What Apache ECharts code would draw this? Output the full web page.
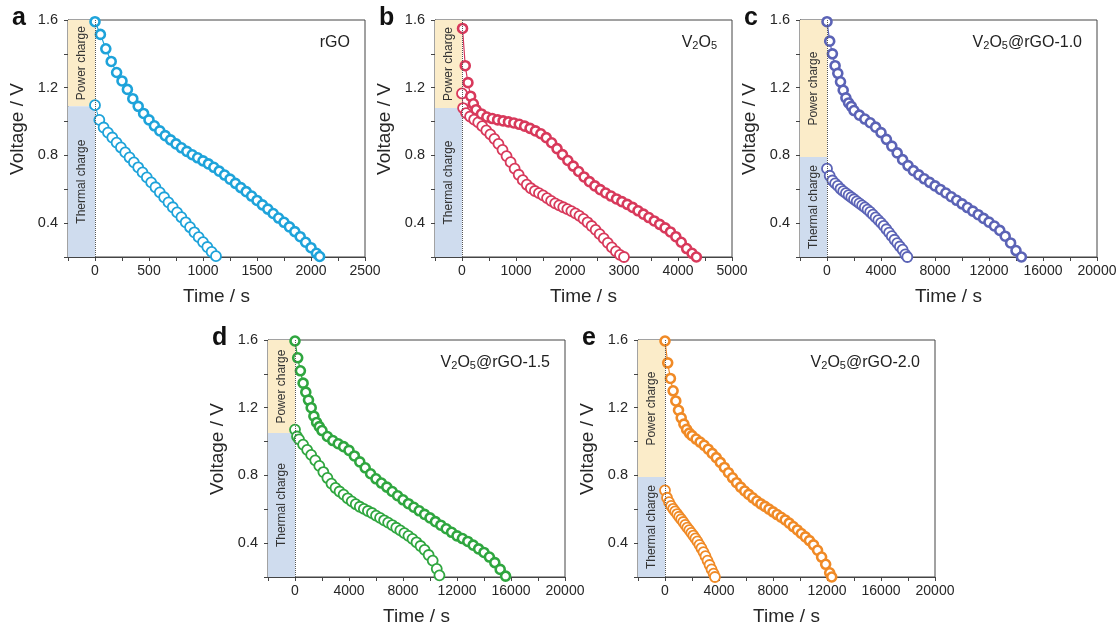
<!DOCTYPE html>
<html><head><meta charset="utf-8">
<script src="https://cdn.jsdelivr.net/npm/echarts@6/dist/echarts.min.js"></script>
<style>html,body{margin:0;padding:0;background:#fff}#c{width:1120px;height:627px}</style>
</head><body><div id="c"></div>
<script>
// ---------------- DATA (time / s, voltage / V) ----------------
const rGO_power = [[0,1.59],[50,1.515],[100,1.43],[150,1.355],[200,1.29],[250,1.24],[300,1.19],[350,1.135],[400,1.09],[450,1.048],[500,1.01],[550,0.975],[600,0.945],[650,0.917],[700,0.892],[750,0.868],[800,0.845],[850,0.824],[900,0.804],[950,0.786],[1000,0.768],[1050,0.75],[1100,0.73],[1150,0.707],[1200,0.684],[1250,0.66],[1300,0.635],[1350,0.61],[1400,0.586],[1450,0.56],[1500,0.534],[1550,0.508],[1600,0.483],[1650,0.457],[1700,0.43],[1750,0.405],[1800,0.378],[1850,0.35],[1900,0.32],[1950,0.287],[2000,0.255],[2050,0.222],[2080,0.203]];
const rGO_thermal = [[0,1.097],[40,1.01],[80,0.965],[120,0.935],[160,0.906],[200,0.876],[240,0.847],[280,0.818],[320,0.788],[360,0.759],[400,0.73],[440,0.70],[480,0.67],[520,0.641],[560,0.612],[600,0.582],[640,0.553],[680,0.523],[720,0.494],[760,0.464],[800,0.435],[840,0.405],[880,0.376],[920,0.346],[960,0.317],[1000,0.288],[1040,0.259],[1080,0.23],[1120,0.205]];

const V2O5_power = [[10,1.55],[60,1.33],[110,1.23],[160,1.15],[210,1.105],[260,1.07],[360,1.045],[460,1.027],[560,1.018],[660,1.01],[760,1.004],[860,0.998],[960,0.992],[1060,0.984],[1160,0.973],[1260,0.96],[1360,0.945],[1460,0.928],[1560,0.905],[1660,0.875],[1760,0.84],[1860,0.805],[1960,0.77],[2060,0.737],[2160,0.705],[2260,0.673],[2360,0.645],[2460,0.62],[2560,0.598],[2660,0.578],[2760,0.56],[2860,0.543],[2960,0.527],[3060,0.511],[3160,0.493],[3260,0.473],[3360,0.453],[3460,0.433],[3560,0.413],[3660,0.393],[3760,0.372],[3860,0.348],[3960,0.32],[4060,0.287],[4160,0.25],[4260,0.222],[4340,0.2]];
const V2O5_thermal = [[0,1.166],[20,1.08],[75,1.05],[150,1.03],[225,1.012],[300,0.995],[375,0.973],[450,0.948],[525,0.924],[600,0.898],[675,0.868],[750,0.833],[825,0.796],[900,0.76],[975,0.722],[1050,0.686],[1125,0.654],[1200,0.627],[1275,0.606],[1350,0.59],[1425,0.577],[1500,0.564],[1575,0.548],[1650,0.532],[1725,0.517],[1800,0.505],[1875,0.494],[1950,0.483],[2025,0.471],[2100,0.458],[2175,0.443],[2250,0.425],[2325,0.405],[2400,0.383],[2475,0.36],[2550,0.335],[2625,0.31],[2700,0.283],[2775,0.257],[2850,0.233],[2925,0.213],[3000,0.2]];

const rGO10_power = [[0,1.59],[200,1.475],[400,1.40],[600,1.33],[800,1.285],[1000,1.235],[1200,1.185],[1400,1.14],[1600,1.11],[1800,1.09],[2000,1.065],[2400,1.038],[2800,1.015],[3200,0.993],[3600,0.967],[4000,0.935],[4400,0.895],[4800,0.855],[5200,0.815],[5600,0.775],[6000,0.74],[6400,0.71],[6800,0.685],[7200,0.662],[7600,0.641],[8000,0.62],[8400,0.599],[8800,0.578],[9200,0.556],[9600,0.535],[10000,0.514],[10400,0.492],[10800,0.471],[11200,0.45],[11600,0.428],[12000,0.406],[12400,0.383],[12800,0.357],[13200,0.323],[13600,0.283],[14000,0.238],[14400,0.2]];
const rGO10_thermal = [[0,0.722],[200,0.68],[400,0.652],[600,0.635],[800,0.62],[1000,0.603],[1200,0.589],[1400,0.577],[1600,0.565],[1800,0.553],[2000,0.541],[2200,0.529],[2400,0.517],[2600,0.505],[2800,0.493],[3000,0.48],[3200,0.466],[3400,0.45],[3600,0.434],[3800,0.418],[4000,0.402],[4200,0.384],[4400,0.364],[4600,0.344],[4800,0.323],[5000,0.302],[5200,0.282],[5400,0.262],[5600,0.243],[5800,0.215],[5950,0.2]];

const rGO15_power = [[0,1.594],[200,1.495],[400,1.418],[600,1.345],[800,1.292],[1000,1.245],[1200,1.20],[1400,1.15],[1600,1.113],[1800,1.088],[2000,1.065],[2400,1.03],[2800,1.006],[3200,0.987],[3600,0.97],[4000,0.948],[4400,0.915],[4800,0.88],[5200,0.845],[5600,0.81],[6000,0.78],[6400,0.755],[6800,0.731],[7200,0.705],[7600,0.68],[8000,0.656],[8400,0.633],[8800,0.612],[9200,0.591],[9600,0.57],[10000,0.549],[10400,0.527],[10800,0.506],[11200,0.485],[11600,0.464],[12000,0.443],[12400,0.427],[12800,0.41],[13200,0.388],[13600,0.366],[14000,0.345],[14400,0.318],[14800,0.285],[15200,0.245],[15600,0.205]];
const rGO15_thermal = [[0,1.071],[150,1.03],[300,1.013],[600,0.982],[900,0.951],[1200,0.921],[1500,0.889],[1800,0.856],[2100,0.82],[2400,0.785],[2700,0.752],[3000,0.726],[3300,0.705],[3600,0.687],[3900,0.665],[4200,0.647],[4500,0.63],[4800,0.615],[5100,0.602],[5400,0.59],[5700,0.578],[6000,0.563],[6300,0.549],[6600,0.535],[6900,0.521],[7200,0.507],[7500,0.491],[7800,0.475],[8100,0.459],[8400,0.443],[8700,0.425],[9000,0.405],[9300,0.383],[9600,0.36],[9900,0.33],[10200,0.297],[10500,0.248],[10700,0.21]];

const rGO20_power = [[0,1.594],[200,1.465],[400,1.373],[600,1.30],[800,1.24],[1000,1.185],[1200,1.14],[1400,1.103],[1600,1.072],[1800,1.05],[2000,1.035],[2300,1.015],[2600,0.997],[2900,0.978],[3200,0.955],[3500,0.93],[3800,0.905],[4100,0.877],[4400,0.847],[4700,0.816],[5000,0.786],[5300,0.757],[5600,0.731],[5900,0.708],[6200,0.688],[6500,0.668],[6800,0.649],[7100,0.632],[7400,0.617],[7700,0.601],[8000,0.585],[8300,0.569],[8600,0.553],[8900,0.537],[9200,0.518],[9500,0.498],[9800,0.478],[10100,0.457],[10400,0.437],[10700,0.415],[11000,0.39],[11300,0.358],[11600,0.318],[11900,0.275],[12200,0.225],[12350,0.2]];
const rGO20_thermal = [[0,0.712],[150,0.668],[300,0.642],[450,0.62],[600,0.603],[750,0.588],[900,0.572],[1050,0.556],[1200,0.541],[1350,0.525],[1500,0.508],[1650,0.492],[1800,0.477],[1950,0.461],[2100,0.445],[2250,0.428],[2400,0.41],[2550,0.39],[2700,0.37],[2850,0.347],[3000,0.323],[3150,0.297],[3300,0.271],[3450,0.245],[3600,0.22],[3700,0.2]];

const panelLetters = ['a','b','c','d','e'];
const sampleLabels = ['{n|rGO}','{n|V}{s|2}{n|O}{s|5}','{n|V}{s|2}{n|O}{s|5}{n|@rGO-1.0}','{n|V}{s|2}{n|O}{s|5}{n|@rGO-1.5}','{n|V}{s|2}{n|O}{s|5}{n|@rGO-2.0}'];
const powerSeries = [rGO_power, V2O5_power, rGO10_power, rGO15_power, rGO20_power];
const thermalSeries = [rGO_thermal, V2O5_thermal, rGO10_thermal, rGO15_thermal, rGO20_thermal];
const chargeSplitV = [1.09, 1.08, 0.79, 1.05, 0.79];   // boundary between power / thermal charge shading
const xMinTick = [-250, -500, -2000, -2000, -2000];
const xMaxTick = [2500, 5000, 20000, 20000, 20000];
const xLabelEvery = [500, 1000, 4000, 4000, 4000];
const yTickLabels = ['0.4','0.8','1.2','1.6'];
const regionLabels = ['Power charge','Thermal charge'];
const xTitle = 'Time / s', yTitle = 'Voltage / V';

// ---------------- STYLE / LAYOUT ----------------
const colors = ['#1ea3da','#d8395b','#5b63b6','#2fa63f','#f08a26'];
const gridPos = [[68,20],[435,20],[800,20],[268,340],[638,340]];
const GW = 297, GH = 237;
const FONT = '"Liberation Sans", Arial, Helvetica, sans-serif';
const TXT = '#262626', AX = '#444';

const chart = echarts.init(document.getElementById('c'));
const grids = [], xAxes = [], yAxes = [], series = [], graphics = [];

panelLetters.forEach((L, i) => {
  const [gl, gt] = gridPos[i];
  grids.push({left: gl, top: gt, width: GW, height: GH, show: true, borderColor: AX, borderWidth: 1, backgroundColor: 'transparent'});
  const step = xLabelEvery[i];
  xAxes.push({
    gridIndex: i, type: 'value', min: xMinTick[i], max: xMaxTick[i], interval: step / 2,
    axisLine: {show: true, onZero: false, lineStyle: {color: AX, width: 1}},
    axisTick: {show: true, length: 4, lineStyle: {color: AX}},
    splitLine: {show: false},
    axisLabel: {fontSize: 14, color: TXT, fontFamily: FONT, margin: 7,
      formatter: v => (Math.round(v) % step === 0 && Math.round(v) >= 0) ? String(Math.round(v)) : ''},
    name: xTitle, nameLocation: 'middle', nameGap: 30,
    nameTextStyle: {fontSize: 19, color: TXT, fontFamily: FONT}
  });
  yAxes.push({
    gridIndex: i, type: 'value', min: 0.2, max: 1.6, interval: 0.2,
    axisLine: {show: true, onZero: false, lineStyle: {color: AX, width: 1}},
    axisTick: {show: true, length: 4, lineStyle: {color: AX}},
    splitLine: {show: false},
    axisLabel: {fontSize: 14.5, color: TXT, fontFamily: FONT, margin: 10,
      formatter: v => { const s = v.toFixed(1); return yTickLabels.indexOf(s) >= 0 ? s : ''; }}
  });
  const c = colors[i];
  const split = chargeSplitV[i];
  series.push({
    type: 'line', xAxisIndex: i, yAxisIndex: i, data: thermalSeries[i],
    symbol: 'circle', symbolSize: 10, showAllSymbol: true, animation: false, z: 3,
    lineStyle: {color: c, width: 1},
    itemStyle: {color: '#fff', borderColor: c, borderWidth: 1.8},
    markArea: {
      silent: true,
      label: {show: true, position: 'inside', rotate: 90, fontSize: 12, color: '#333', fontFamily: FONT},
      data: [
        [{name: regionLabels[0], coord: [xMinTick[i], split], itemStyle: {color: '#fbecc9'}}, {coord: [0, 1.6]}],
        [{name: regionLabels[1], coord: [xMinTick[i], 0.2], itemStyle: {color: '#cfdcee'}}, {coord: [0, split]}]
      ]
    },
    markLine: {
      silent: true, symbol: 'none', animation: false,
      label: {show: false},
      lineStyle: {type: 'dotted', color: '#555', width: 1},
      data: [{xAxis: 0}]
    }
  });
  series.push({
    type: 'line', xAxisIndex: i, yAxisIndex: i, data: powerSeries[i],
    symbol: 'circle', symbolSize: 9, showAllSymbol: true, animation: false, z: 4,
    lineStyle: {color: c, width: 1.2},
    itemStyle: {color: '#fff', borderColor: c, borderWidth: 2.6}
  });
  // y-axis title
  graphics.push({type: 'text', x: gl - 50, y: gt + 109, rotation: Math.PI / 2,
    style: {text: yTitle, font: '19px ' + FONT, fill: TXT, textAlign: 'center', textVerticalAlign: 'middle'}});
  // panel letter
  graphics.push({type: 'text', x: gl - 56, y: gt - 14,
    style: {text: L, font: 'bold 25px ' + FONT, fill: '#111', textAlign: 'left', textVerticalAlign: 'top'}});
  // sample name
  graphics.push({type: 'text', x: gl + GW - 15, y: gt + 13,
    style: {text: sampleLabels[i], textAlign: 'right', textVerticalAlign: 'top',
      rich: {n: {fontSize: 16, lineHeight: 18, verticalAlign: 'bottom', fontFamily: FONT, fill: '#222'},
             s: {fontSize: 11, lineHeight: 9, verticalAlign: 'bottom', fontFamily: FONT, fill: '#222'}}}});
});

chart.setOption({
  animation: false,
  backgroundColor: '#fff',
  grid: grids, xAxis: xAxes, yAxis: yAxes, series: series, graphic: graphics
});
</script></body></html>
